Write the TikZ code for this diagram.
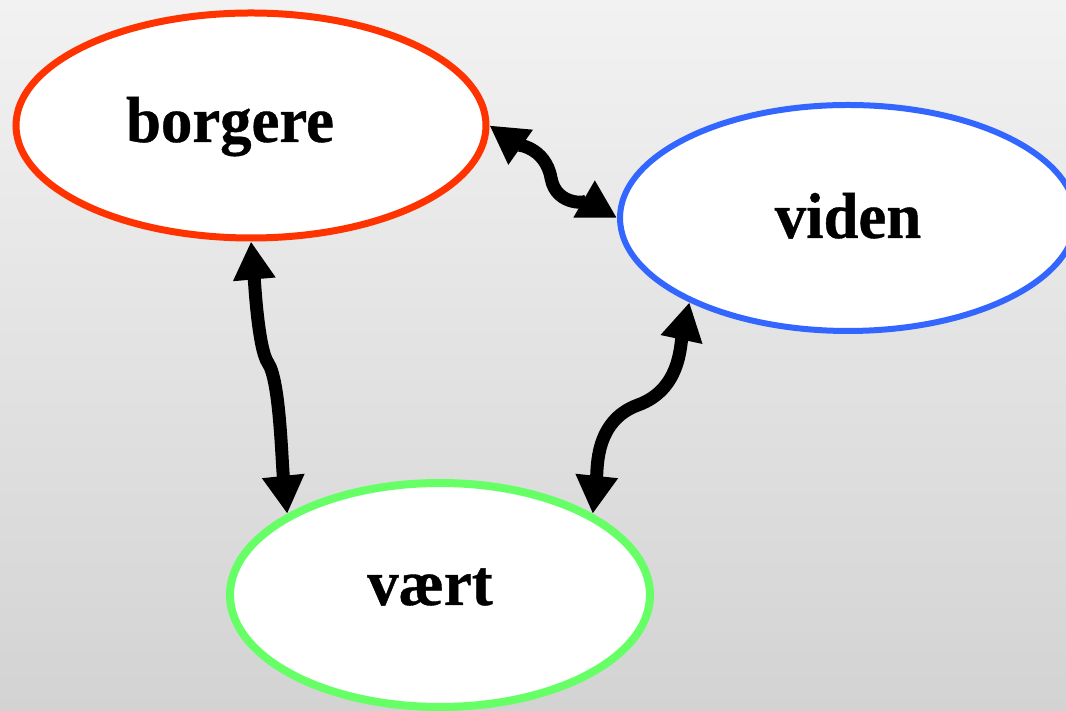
\documentclass[tikz,border=0pt]{standalone}
\usepackage{fontspec}
\setmainfont{Liberation Serif}
\newfontfamily\lblfont[FakeStretch=0.965,FakeBold=0.6]{Liberation Serif Bold}
\usetikzlibrary{shapes.geometric,arrows.meta}
\definecolor{bred}{HTML}{FF3300}
\definecolor{bblue}{HTML}{3366FF}
\definecolor{bgreen}{HTML}{66FF66}
\definecolor{bgtop}{HTML}{F2F2F2}
\definecolor{bgbot}{HTML}{D3D3D3}
\begin{document}
\begin{tikzpicture}[x=1pt,y=1pt,
  blob/.style={ellipse, draw, fill=white, inner sep=0pt},
  lbl/.style={font=\fontsize{65}{70}\lblfont, anchor=base, inner sep=0pt},
  link/.style={line width=13pt, {Triangle[length=38pt,width=40pt]}-{Triangle[length=38pt,width=40pt]}}]
\useasboundingbox (0,0) rectangle (1066,711);
\shade[top color=bgtop, bottom color=bgbot] (0,0) rectangle (1066,711);

\node[blob, draw=bred, line width=7pt, minimum width=470pt, minimum height=225pt] (b) at (251,585.5) {};
\node[blob, draw=bblue, line width=6pt, minimum width=456pt, minimum height=226pt] (vi) at (848,493) {};
\node[blob, draw=bgreen, line width=8pt, minimum width=420pt, minimum height=224pt] (vt) at (440,116) {};

\node[lbl] (tb) at (230,569) {borgere};
\node[lbl] (tvi) at (848,473) {viden};
\node[lbl] (tvt) at (430,106) {vært};

\coordinate (m1) at (551,533);
\coordinate (m2) at (268,348);
\coordinate (m3) at (638,306);

\draw[link] (b.east) to[out=-35,in=100] (m1) to[out=-80,in=150] (vi.west);
\draw[link] (b.south) to[out=-85,in=125,out looseness=0.9,in looseness=0.35] (m2) to[out=-55,in=96,out looseness=0.35,in looseness=0.9] (vt.152);
\draw[link] (vt.28) to[out=84,in=200] (m3) to[out=20,in=258] (vi.208);
\end{tikzpicture}
\end{document}
